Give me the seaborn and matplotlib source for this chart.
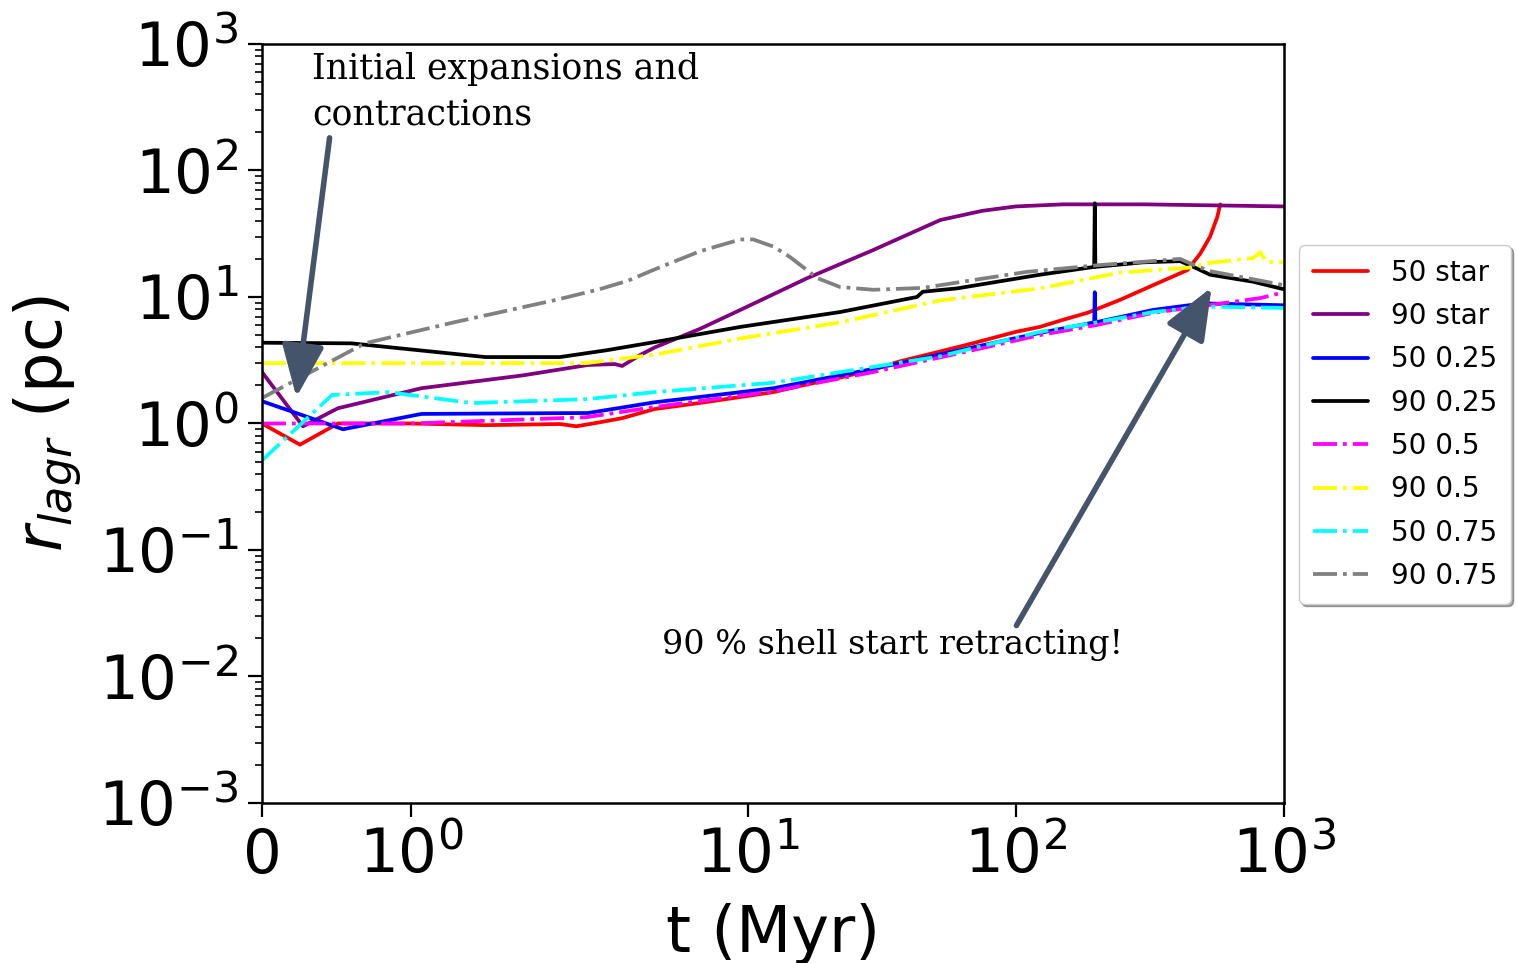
import matplotlib
matplotlib.use("Agg")
import matplotlib.pyplot as plt
import numpy as np
import pandas as pd
import seaborn as sns

# Lagrangian radii (pc) versus time (Myr)
t_50_star = [0, 0.255, 0.51, 1.0, 1.5, 2.0, 2.3, 2.8, 3.4, 4.5, 6.6, 10, 12.5, 16, 22, 29, 37, 52, 69,
             100, 123, 150, 185, 245, 325, 436, 487, 530, 564, 578]
r_50_star = [1.0, 0.68, 1.0, 1.0, 0.97, 0.99, 0.95, 1.02, 1.1, 1.3, 1.45, 1.65, 1.77, 2.0, 2.3, 2.65, 3.1, 3.7, 4.3,
             5.3, 5.8, 6.6, 7.5, 9.5, 12.4, 16.3, 22, 30, 43, 54]

t_90_star = [0, 0.275, 0.51, 1.07, 1.75, 2.54, 3.2, 3.41, 4.0, 4.52, 6.65, 9.4, 16.7, 29.4, 52.3, 75, 100, 150, 300, 1000]
r_90_star = [2.55, 0.95, 1.32, 1.9, 2.4, 2.9, 2.95, 2.85, 3.5, 4.0, 5.6, 7.9, 14.1, 23.5, 40.6, 48, 52, 54, 54, 52]

t_50_025 = [0, 0.544, 1.07, 2.54, 4.5, 12.5, 29.4, 69.3, 123, 196, 197, 198, 325, 500, 1000]
r_50_025 = [1.5, 0.9, 1.19, 1.21, 1.47, 1.9, 2.7, 4.0, 5.2, 6.3, 10.9, 6.3, 7.9, 8.9, 8.6]

t_90_025 = [0, 0.6, 1.5, 2.0, 3.0, 4.5, 9.4, 22.1, 42.8, 45, 60.5, 123, 196, 197, 198, 299, 410, 459, 530, 767, 1000]
r_90_025 = [4.35, 4.3, 3.35, 3.35, 3.8, 4.4, 5.8, 7.6, 10, 11.0, 11.7, 15, 17.3, 55, 17.3, 18.8, 19.2, 17.3, 15, 13.2, 11.5]

t_50_05 = [0, 1.0, 2.5, 4.5, 12.5, 29.4, 69.3, 123, 200, 325, 500, 815, 1000]
r_50_05 = [1.0, 1.0, 1.12, 1.35, 1.8, 2.55, 3.8, 5.0, 6.0, 7.5, 8.5, 9.8, 10.9]

t_90_05 = [0, 2.5, 4.5, 9.4, 22.1, 52.3, 123, 245, 436, 517, 767, 815, 860, 1000]
r_90_05 = [3.0, 3.0, 3.5, 4.7, 6.3, 9.4, 11.7, 15.6, 17, 18.5, 20.3, 22.6, 19, 18.8]

t_50_075 = [0, 0.47, 0.85, 1.41, 2.54, 4.5, 12.5, 29.4, 52.3, 123, 200, 325, 500, 1000]
r_50_075 = [0.51, 1.68, 1.77, 1.45, 1.56, 1.77, 2.1, 2.8, 3.4, 5.3, 6.3, 7.6, 8.4, 8.2]

t_90_075 = [0, 0.69, 1.3, 1.97, 2.8, 3.6, 4.5, 6.65, 9.4, 10.5, 12.5, 14.4, 18.2, 22.1, 29.4, 45, 69.3, 110, 200,
            300, 410, 459, 530, 767, 1000]
r_90_075 = [1.59, 4.3, 6.35, 9.47, 11.5, 13.5, 16.5, 23, 28.5, 28.5, 25, 20.7, 14.1, 12.0, 11.4, 11.8, 13.6, 15.8, 17.8,
            19, 20, 18, 16, 13.8, 12.4]

labels = ["50 star", "90 star", "50 0.25", "90 0.25", "50 0.5", "90 0.5", "50 0.75", "90 0.75"]
times = [t_50_star, t_90_star, t_50_025, t_90_025, t_50_05, t_90_05, t_50_075, t_90_075]
radii = [r_50_star, r_90_star, r_50_025, r_90_025, r_50_05, r_90_05, r_50_075, r_90_075]
colors = ["red", "purple", "blue", "black", "magenta", "yellow", "cyan", "grey"]
styles = ["-", "-", "-", "-", "-.", "-.", "-.", "-."]

sns.set_style("ticks")
plt.rcParams["font.family"] = ["DejaVu Sans"]
plt.rcParams["text.color"] = "black"
plt.rcParams["axes.labelcolor"] = "black"
plt.rcParams["xtick.color"] = "black"
plt.rcParams["ytick.color"] = "black"
plt.rcParams["axes.edgecolor"] = "black"

fig = plt.figure(figsize=(15.16, 9.63), dpi=100)
ax = fig.add_axes([0.1728, 0.1662, 0.6742, 0.7881])

for lab, t, r, c, ls in zip(labels, times, radii, colors, styles):
    df = pd.DataFrame({"t": t, "r": r})
    sns.lineplot(data=df, x="t", y="r", ax=ax, color=c, linestyle=ls, linewidth=2.7,
                 estimator=None, sort=False, label=lab)

ax.set_xscale("symlog", linthresh=2)
ax.set_yscale("log")
ax.set_xlim(0, 1000)
ax.set_ylim(1e-3, 1e3)
ax.set_xticks([0, 1, 10, 100, 1000])
ax.set_xticklabels(["0", r"$10^0$", r"$10^1$", r"$10^2$", r"$10^3$"])
ax.xaxis.set_minor_locator(matplotlib.ticker.NullLocator())
ax.set_yticks([1e-3, 1e-2, 1e-1, 1, 10, 100, 1000])
ax.yaxis.set_minor_locator(matplotlib.ticker.LogLocator(base=10, subs=np.arange(2, 10), numticks=20))
ax.tick_params(axis="both", which="major", labelsize=44, length=10, width=1.6, pad=7)
ax.tick_params(axis="y", which="minor", length=5, width=1.2)
for sp in ax.spines.values():
    sp.set_linewidth(1.8)
    sp.set_visible(True)

ax.set_xlabel("t (Myr)", fontsize=46, labelpad=12)
ax.set_ylabel(r"$r_{lagr}$ (pc)", fontsize=46, labelpad=10)

leg = ax.legend(loc="upper left", bbox_to_anchor=(1.001, 0.7535), fontsize=20, frameon=True,
                shadow=True, handlelength=2.0, labelspacing=0.55, borderpad=0.5)
leg.get_frame().set_edgecolor("#cccccc")

arrow_col = "#44546a"
head = "-|>,head_length=3.2,head_width=1.3"
ax.text(0.049, 0.990, "Initial expansions and\ncontractions", transform=ax.transAxes,
        ha="left", va="top", fontsize=25, family="DejaVu Serif", linespacing=1.45,
        bbox=dict(facecolor="white", edgecolor="none", pad=1))
ax.annotate("", xy=(0.0333, 0.531), xytext=(0.0665, 0.880), xycoords="axes fraction",
            textcoords="axes fraction",
            arrowprops=dict(arrowstyle=head, color=arrow_col, lw=4))
ax.text(0.391, 0.208, "90 % shell start retracting!", transform=ax.transAxes,
        ha="left", va="center", fontsize=24, family="DejaVu Serif")
ax.annotate("", xy=(0.9305, 0.6825), xytext=(0.7368, 0.2306), xycoords="axes fraction",
            textcoords="axes fraction",
            arrowprops=dict(arrowstyle=head, color=arrow_col, lw=4))

fig.savefig("out.png", dpi=100)
